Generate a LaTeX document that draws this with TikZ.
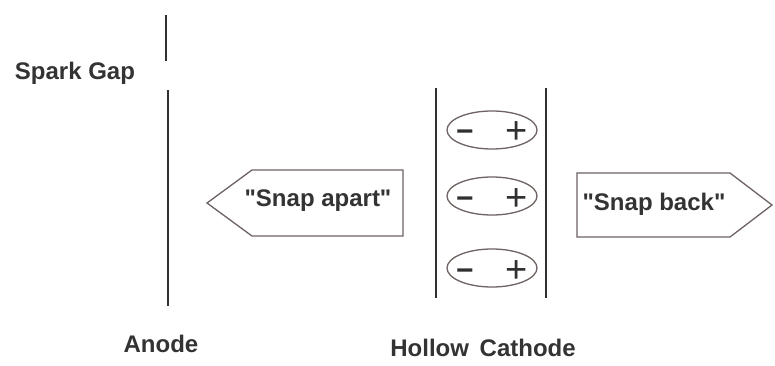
\documentclass[tikz,border=0pt]{standalone}
\usepackage{fontspec}
\newfontfamily\labelfont{Liberation Sans}
\usetikzlibrary{shapes.geometric}
\definecolor{ink}{HTML}{303030}
\definecolor{txt}{HTML}{333333}
\definecolor{edge}{HTML}{6E6262}
\begin{document}
\begin{tikzpicture}[x=1pt,y=-1pt,
  lbl/.style={font=\labelfont\fontsize{24}{28}\selectfont\bfseries, text=txt, inner sep=0pt},
  electrode/.style={draw=ink, line width=2.6pt},
  arrowbox/.style={draw=edge, line width=1.3pt},
  dipole/.style={ellipse, draw=edge, line width=1.3pt, minimum width=90pt, minimum height=38pt, inner sep=0pt},
  charge/.style={font=\labelfont\fontsize{38}{38}\selectfont, text=ink, inner sep=0pt, anchor=base},
  mcharge/.style={font=\labelfont\fontsize{30}{30}\selectfont\bfseries, text=ink, inner sep=0pt, anchor=base}]
\useasboundingbox (0,0) rectangle (775,366);
\fill[white] (0,0) rectangle (775,366);
% spark gap and anode
\coordinate (gapT) at (166,15);
\coordinate (gapB) at (166,61);
\coordinate (anT) at (168,90);
\coordinate (anB) at (168,306);
\draw[electrode] (gapT) -- (gapB);
\draw[electrode] (anT) -- (anB);
% hollow cathode walls
\coordinate (cLT) at (436,88);
\coordinate (cLB) at (436,298);
\coordinate (cRT) at (546,88);
\coordinate (cRB) at (546,298);
\draw[electrode] (cLT) -- (cLB);
\draw[electrode] (cRT) -- (cRB);
% labels
\node[lbl] (spark) at (75,73) {Spark Gap};
\node[lbl] (anode) at (161,344) {Anode};
\node[lbl] (hollow) at (483,348) {Hollow\hspace{4pt} Cathode};
% arrow boxes
\draw[arrowbox] (207,203) -- (252,170) -- (403,170) -- (403,236) -- (252,236) -- cycle;
\node[lbl] (apart) at (318,201) {"Snap apart"};
\draw[arrowbox] (577,173) -- (730,173) -- (772,205) -- (730,237) -- (577,237) -- cycle;
\node[lbl] (back) at (654,204) {"Snap back"};
% dipoles
\foreach \n/\y in {d1/130, d2/196, d3/268}{
  \node[dipole] (\n) at (492,\y) {};
  \node[mcharge] (\n m) at ([xshift=-27pt,yshift=-12pt]\n.center) {−};
  \node[charge] (\n p) at ([xshift=25pt,yshift=-14pt]\n.center) {+};
}
\end{tikzpicture}
\end{document}
